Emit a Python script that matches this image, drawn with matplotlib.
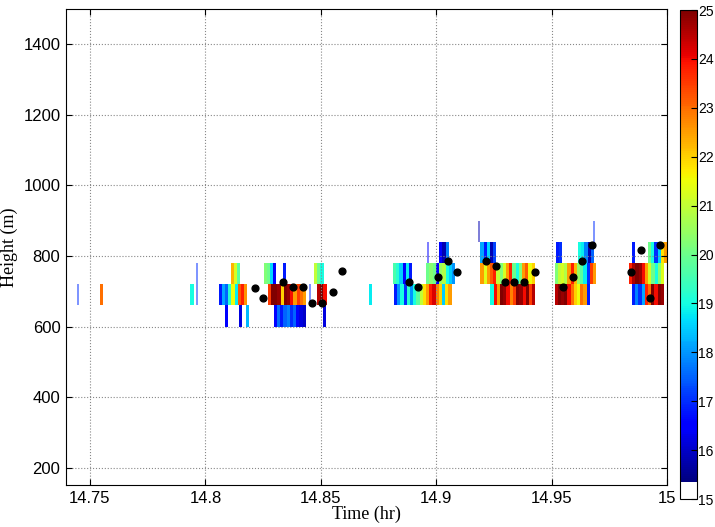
import numpy as np
import matplotlib
matplotlib.use("Agg")
import matplotlib.pyplot as plt
from matplotlib.colors import ListedColormap, Normalize

# time step of one column (hr) and height of one range gate (m)
dt = 5/3600.
dh = 60.

# segments per range gate: (start time hr, values...)
gate600 = [(14.8083, [16.5]),
           (14.8146, [16.2, np.nan, 18.3]),
           (14.8296, [16.5, 17.6, 16.8, 17.5, 17.8, 17.0, 17.5, 16.6, 16.2, 16.0]),
           (14.8509, [16.2])]
gate660 = [(14.7543, [23]),
           (14.7935, [19]),
           (14.8057, [16.8, 18.2, 17.5, 19.2, 21.5, 18.8, 23.2, 23.8, 22.6]),
           (14.8270, [23.5, 25, 25, 24.8, 22, 25, 24.8, 24, 22.5, 23.5, 23, 22.5]),
           (14.8483, [24.5, 25, 24]),
           (14.8709, [18.8]),
           (14.8817, [16.8, 18, 19, 17, 19.2, 18, 19, 19.8, 21, 21.8, 22.5, 23.8, 24.2, 22.8, 22, 18.5, 21.8, 22.5]),
           (14.9235, [19, 24, 22.5, 25, 24.8, 24, 22.8, 23.5, 25, 24.8, 24, 25, 23.5, 24.5]),
           (14.9513, [24.5, 25, 24.8, 25, 24, 23, 22, 21.5, 23, 22.5, 16.8]),
           (14.9848, [16.8, 17.8, 17, 18.2, 23.8, 23, 25, 24, 25, 24.8])]
gate720 = [(14.8109, [22.3, 21.2, 19.8]),
           (14.8252, [20.2, 20, 18.6, 16.5, np.nan, np.nan, 16.8]),
           (14.8470, [21, 20, 19]),
           (14.8813, [19.6, 19.2, 18.5, 16.5, 18.8, 16.8]),
           (14.8957, [20, 20.3, 20, 16.5, 20.5, 20.8, 19, 18.5, 18]),
           (14.9191, [22.5, 21.3, 22.5, 23.2, 23.8, 21, 20.2, 21.2, 22.5, 23.8, 20, 19, 20.2, 22.5, 23.2, 21.5, 22]),
           (14.9513, [20.2, 21, 21.2, 20.8, 22.5, 23.8, 22.2, 20.5, 19.8, 18.8, 17, 23.5, 22.5]),
           (14.9835, [23.8, 24.6, 25, 24.8, 24, 22.5, 21.2, 20, 19, 20.3, 21.3])]
gate780 = [(14.9013, [16.5, 15.8, 17.8]),
           (14.9191, [18.2, 16.8, 18.6, 15.8, 17.2]),
           (14.9517, [16.8, 17, np.nan, np.nan, np.nan, np.nan, np.nan, 19, 18.8, 17.8, 15.8, 17.5]),
           (14.9848, [16.8, np.nan, np.nan, np.nan, np.nan, 20, 19, 17, 18.5, 21.8, 22.5])]
gates = {600: gate600, 660: gate660, 720: gate720, 780: gate780}

# single thin samples: time, bottom, top, value
line_t = [14.7446, 14.7964, 14.8452, 14.8965, 14.9187, 14.9682]
line_h0 = [660, 660, 660, 780, 840, 840]
line_h1 = [720, 780, 720, 840, 900, 900]
line_v = [17, 17, 17, 16.5, 15.8, 17]

# black dots
dot_t = [14.8213, 14.8251, 14.8338, 14.8380, 14.8423, 14.8464, 14.8504, 14.8551, 14.8591,
         14.8880, 14.8923, 14.9007, 14.9051, 14.9090, 14.9216, 14.9257, 14.9297, 14.9336,
         14.9380, 14.9426, 14.9551, 14.9591, 14.9632, 14.9677, 14.9842, 14.9888, 14.9927, 14.9968]
dot_h = [710, 682, 727, 712, 712, 667, 667, 697, 757,
         727, 711, 741, 787, 756, 787, 773, 727, 727,
         727, 756, 711, 741, 787, 832, 756, 817, 682, 832]

xticks = [14.75, 14.8, 14.85, 14.9, 14.95, 15]
xlabels = ["14.75", "14.8", "14.85", "14.9", "14.95", "15"]
yticks = [200, 400, 600, 800, 1000, 1200, 1400]
cticks = list(range(15, 26))

# white bottom + jet
jet = plt.get_cmap("jet")(np.linspace(0, 1, 247))
cols = np.vstack([np.ones((9, 4)), jet])
cmap = ListedColormap(cols)
norm = Normalize(15, 25)

fig = plt.figure(figsize=(7.15, 5.27), dpi=100)
ax = fig.add_axes([0.0923, 0.0791, 0.8406, 0.9038])
cax = fig.add_axes([0.951, 0.053, 0.0238, 0.928])

for h, segs in gates.items():
    for t0, vals in segs:
        v = np.ma.masked_invalid(np.array(vals, dtype=float))[None, :]
        te = t0 + dt*np.arange(len(vals)+1)
        ax.pcolormesh(te, [h, h+dh], v, cmap=cmap, norm=norm, shading="flat")

for i in range(len(line_t)):
    ax.vlines(line_t[i], line_h0[i], line_h1[i], colors=[cmap(norm(line_v[i]))], lw=1.2, alpha=0.6)

ax.scatter(dot_t, dot_h, s=24, c="k", zorder=5)

ax.set_xlim(14.7396, 15)
ax.set_ylim(150, 1500)
ax.set_xticks(xticks)
ax.set_xticklabels(xlabels)
ax.set_yticks(yticks)
ax.grid(True, ls=":", color="#888888", lw=0.8)
ax.tick_params(direction="in", top=True, right=True, labelsize=12, length=4, pad=4)
for lab in ax.get_xticklabels() + ax.get_yticklabels():
    lab.set_family("Liberation Sans")
ax.set_xlabel("Time (hr)", family="Liberation Serif", fontsize=13, labelpad=0)
ax.set_ylabel("Height (m)", family="Liberation Serif", fontsize=13, labelpad=4)

sm = plt.cm.ScalarMappable(cmap=cmap, norm=norm)
cb = fig.colorbar(sm, cax=cax, ticks=cticks)
cb.ax.tick_params(direction="in", labelsize=10, length=4, pad=1)
for lab in cb.ax.get_yticklabels():
    lab.set_family("Liberation Sans")
cb.outline.set_linewidth(0.8)

fig.savefig("out.png", dpi=100)
